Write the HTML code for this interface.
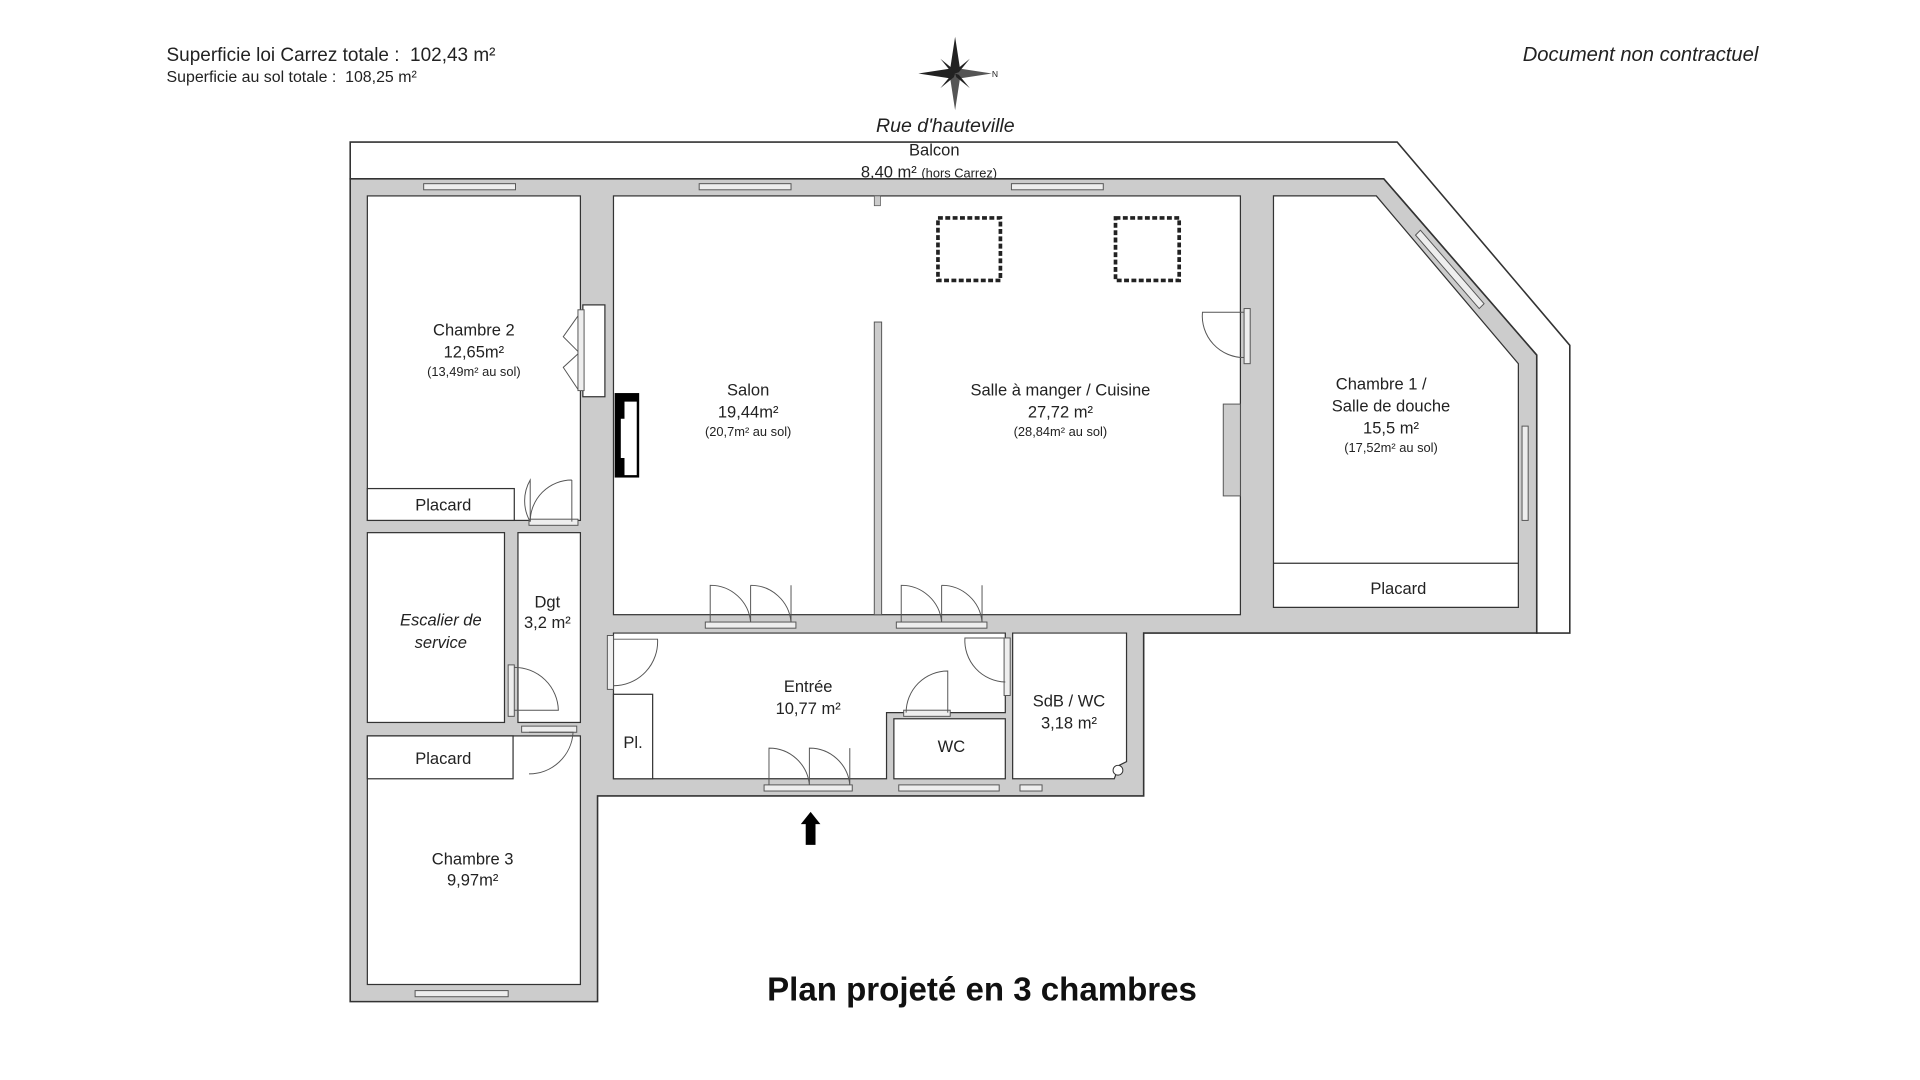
<!DOCTYPE html>
<html><head><meta charset="utf-8"><style>
html,body{margin:0;padding:0;background:#fff;width:1920px;height:1080px;overflow:hidden}
svg{display:block}
text{font-family:"Liberation Sans",sans-serif;fill:#222}
</style></head><body>
<svg width="1920" height="1080" viewBox="0 0 1568 882" xmlns="http://www.w3.org/2000/svg">
<text x="136" y="50" font-size="15.5" xml:space="preserve">Superficie loi Carrez totale :  102,43 m²</text>
<text x="136" y="67" font-size="13" xml:space="preserve">Superficie au sol totale :  108,25 m²</text>
<text x="1436" y="50" font-size="16.5" font-style="italic" text-anchor="end">Document non contractuel</text>
<g transform="translate(780,60)" fill="#222">
<polygon points="0,-30 4,-4 0,0 -4,-4"/><polygon points="0,30 4,4 0,0 -4,4" fill="#555"/>
<polygon points="-30,0 -4,-4 0,0 -4,4"/><polygon points="30,0 4,-4 0,0 4,4" fill="#555"/>
<polygon points="-12,-12 -1,-3 0,0 -3,-1"/><polygon points="12,12 1,3 0,0 3,1"/>
<polygon points="12,-12 3,-1 0,0 1,-3"/><polygon points="-12,12 -3,1 0,0 -1,3"/>
<text x="30" y="3" font-size="7">N</text>
</g>
<text x="772" y="108" font-size="16" font-style="italic" text-anchor="middle">Rue d'hauteville</text>
<polygon points="286,116 1141,116 1282,282 1282,517 1255,517 1255,290 1130,146 286,146" fill="#fff" stroke="#333" stroke-width="1.3"/>
<text x="763" y="127" font-size="13.5" text-anchor="middle">Balcon</text>
<text x="703" y="145" font-size="13.5">8,40 m² <tspan font-size="10.5">(hors Carrez)</tspan></text>
<polygon points="286,146 1130,146 1255,290 1255,517 934,517 934,650 488,650 488,818 286,818" fill="#cccccc" stroke="#333" stroke-width="1.3"/>
<g fill="#fff" stroke="#333" stroke-width="1">
<rect x="300" y="160" width="174" height="265"/>
<rect x="300" y="399" width="120" height="26"/>
<rect x="300" y="435" width="112" height="155"/>
<rect x="423" y="435" width="51" height="155"/>
<rect x="300" y="601" width="174" height="203"/>
<rect x="300" y="601" width="119" height="35"/>
<rect x="501" y="160" width="512" height="342"/>
<polygon points="1040,160 1124,160 1240,297 1240,496 1040,496"/>
<line x1="1040" y1="460" x2="1240" y2="460"/>
<polygon points="501,517 821,517 821,582 724,582 724,636 501,636"/>
<rect x="501" y="567" width="32" height="69"/>
<rect x="730" y="587" width="91" height="49"/>
<polygon points="827,517 920,517 920,622 914,625 910,636 827,636"/>
<rect x="476" y="249" width="18" height="75"/>
</g>
<rect x="714" y="263" width="6" height="239" fill="#cccccc" stroke="#555" stroke-width="0.8"/>
<rect x="999" y="330" width="14" height="75" fill="#cccccc" stroke="#555" stroke-width="0.8"/>
<rect x="714" y="160" width="5" height="8" fill="#ccc" stroke="#555" stroke-width="0.6"/>
<circle cx="913" cy="629" r="4" fill="#fff" stroke="#333" stroke-width="0.8"/>
<rect x="502" y="321" width="20" height="69" fill="#000"/>
<polygon points="510,328 520,328 520,388 510,388 510,374 507,374 507,342 510,342" fill="#fff"/>
<rect x="766" y="178" width="51" height="51" fill="none" stroke="#222" stroke-width="3" stroke-dasharray="4,2"/>
<rect x="911" y="178" width="52" height="51" fill="none" stroke="#222" stroke-width="3" stroke-dasharray="4,2"/>
<g fill="#eee" stroke="#555" stroke-width="0.8">
<rect x="346" y="150" width="75" height="5"/><rect x="571" y="150" width="75" height="5"/><rect x="826" y="150" width="75" height="5"/>
<rect x="576" y="508" width="74" height="5"/><rect x="732" y="508" width="74" height="5"/>
<rect x="624" y="641" width="72" height="5"/><rect x="734" y="641" width="82" height="5"/><rect x="833" y="641" width="18" height="5"/>
<rect x="339" y="809" width="76" height="5"/>
<rect x="1243" y="348" width="5" height="77"/>
<rect x="432" y="424" width="40" height="5"/><rect x="426" y="593" width="45" height="5"/>
<rect x="415" y="543" width="5" height="42"/><rect x="496" y="519" width="5" height="44"/>
<rect x="820" y="521" width="5" height="47"/><rect x="738" y="580" width="38" height="5"/>
<rect x="1016" y="252" width="5" height="45"/><rect x="472" y="253" width="5" height="66"/>
<polygon points="1156,192 1160,188 1212,248 1208,252"/>
</g>
<g fill="none" stroke="#555" stroke-width="0.8">
<path d="M433,426 L433,392 A34,34 0 0 0 433,426" /><path d="M467,392 L467,426 M467,392 A34,34 0 0 0 433,426"/>
<path d="M580,508 L580,478 A33,33 0 0 1 613,508 M613,508 L613,478 M613,478 A33,33 0 0 1 646,508 M646,478 L646,508"/>
<path d="M736,508 L736,478 A33,33 0 0 1 769,508 M769,508 L769,478 M769,478 A33,33 0 0 1 802,508 M802,478 L802,508"/>
<path d="M628,641 L628,611 A33,33 0 0 1 661,641 M661,641 L661,611 A33,33 0 0 1 694,641 M694,611 L694,641"/>
<path d="M1016,255 L982,255 A34,34 0 0 0 1016,292"/>
<path d="M420,545 A36,36 0 0 1 456,580 L420,580"/>
<path d="M501,522 L537,522 A36,36 0 0 1 501,560"/>
<path d="M774,582 L774,548 A34,34 0 0 0 740,582"/>
<path d="M821,521 L788,521 A34,34 0 0 0 821,557"/>
<path d="M432,598 L468,598 A36,36 0 0 1 432,632"/>
<path d="M472,258 L460,275 L472,287 M472,289 L460,300 L472,318"/>
</g>
<g font-size="13.5" text-anchor="middle">
<text x="387" y="274">Chambre 2</text><text x="387" y="292">12,65m²</text><text x="387" y="307" font-size="10.5">(13,49m² au sol)</text>
<text x="362" y="417">Placard</text>
<text x="360" y="511" font-style="italic">Escalier de</text><text x="360" y="529" font-style="italic">service</text>
<text x="447" y="496">Dgt</text><text x="447" y="513">3,2 m²</text>
<text x="362" y="624">Placard</text>
<text x="386" y="706">Chambre 3</text><text x="386" y="723">9,97m²</text>
<text x="611" y="323">Salon</text><text x="611" y="341">19,44m²</text><text x="611" y="356" font-size="10.5">(20,7m² au sol)</text>
<text x="866" y="323">Salle à manger / Cuisine</text><text x="866" y="341">27,72 m²</text><text x="866" y="356" font-size="10.5">(28,84m² au sol)</text>
<text x="1128" y="318">Chambre 1 /</text><text x="1136" y="336">Salle de douche</text><text x="1136" y="354">15,5 m²</text><text x="1136" y="369" font-size="10.5">(17,52m² au sol)</text>
<text x="1142" y="485">Placard</text>
<text x="660" y="565">Entrée</text><text x="660" y="583">10,77 m²</text>
<text x="517" y="611">Pl.</text>
<text x="777" y="614">WC</text>
<text x="873" y="577">SdB / WC</text><text x="873" y="595">3,18 m²</text>
</g>
<polygon points="662,663 670,673 666,673 666,690 658,690 658,673 654,673" fill="#000"/>
<text x="802" y="817" font-size="27" font-weight="bold" text-anchor="middle" style="fill:#111">Plan projeté en 3 chambres</text>
</svg>
</body></html>
